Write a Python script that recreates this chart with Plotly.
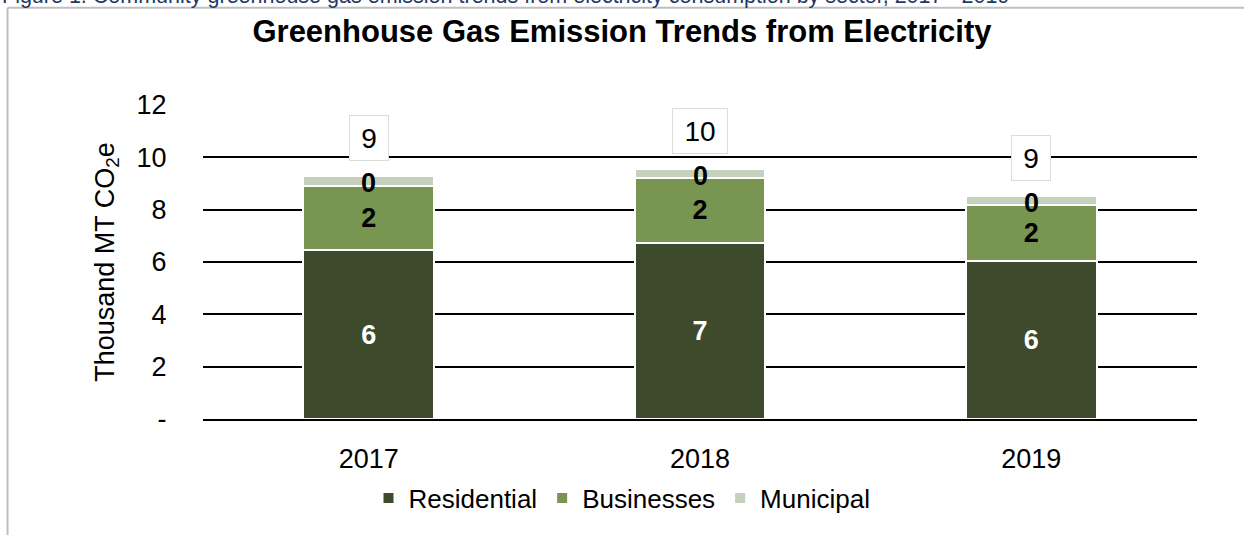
import plotly.graph_objects as go

years = ["2017", "2018", "2019"]
residential = [6.44, 6.74, 6.03]
businesses = [2.45, 2.46, 2.14]
municipal = [0.38, 0.34, 0.35]
series_names = ["Residential", "Businesses", "Municipal"]
series_colors = ["#3d4b2c", "#789552", "#c5d1bd"]
y_tickvals = [0, 2, 4, 6, 8, 10, 12]
y_ticktext = ["-", "2", "4", "6", "8", "10", "12"]

FONT = "Liberation Sans, Arial, sans-serif"

fig = go.Figure()
series = [residential, businesses, municipal]
label_colors = ["white", "black", "black"]
for name, vals, col, lc in zip(series_names, series, series_colors, label_colors):
    fig.add_trace(go.Bar(
        x=years, y=vals, name=name,
        marker=dict(color=col, line=dict(color="white", width=2)),
        text=[f"{v:.0f}" for v in vals] if name != "Municipal" else None,
        textposition="inside" if name != "Municipal" else "none",
        insidetextanchor="middle",
        textfont=dict(family=FONT, size=27, color=lc, weight="bold"),
    ))

# municipal labels (segment too thin for inside text); x given as category index
for i, (r, b, m) in enumerate(zip(residential, businesses, municipal)):
    fig.add_annotation(x=i, y=r + b + m / 2, xref="x", yref="y",
                       text=f"<b>{m:.0f}</b>", showarrow=False, yshift=-2,
                       font=dict(family=FONT, size=27, color="black"))

totals = [r + b + m for r, b, m in zip(residential, businesses, municipal)]
for i, t in enumerate(totals):
    txt = f"{t:.0f}"
    fig.add_annotation(
        x=i, y=t, xref="x", yref="y", text=txt, showarrow=False,
        yanchor="bottom", yshift=15,
        bgcolor="white", bordercolor="#dcdcdc", borderwidth=1,
        width=36 if len(txt) == 1 else 52, height=42,
        font=dict(family=FONT, size=28, color="black"),
    )

# caption (partially cut at top) and chart border
fig.add_annotation(
    xref="paper", yref="paper", x=-203 / 994, y=(418.7 - 10) / 314, xanchor="left", yanchor="bottom",
    text="Figure 1. Community greenhouse gas emission trends from electricity consumption by sector, 2017 - 2019",
    showarrow=False, font=dict(family=FONT, size=21.5, color="#1f3864"),
)
fig.add_shape(type="line", xref="paper", yref="paper",
              x0=(7.5 - 203) / 994, x1=(1250 - 203) / 994,
              y0=(418.7 - 7.5) / 314, y1=(418.7 - 7.5) / 314,
              line=dict(color="#bfbfbf", width=2), layer="above")
fig.add_shape(type="line", xref="paper", yref="paper",
              x0=(7.5 - 203) / 994, x1=(7.5 - 203) / 994,
              y0=(418.7 - 7.5) / 314, y1=(418.7 - 540) / 314,
              line=dict(color="#bfbfbf", width=2), layer="above")

fig.update_layout(
    width=1244, height=535,
    margin=dict(l=203, r=47, t=105, b=116, autoexpand=False),
    barmode="stack", bargap=0.605,
    paper_bgcolor="white", plot_bgcolor="white",
    font=dict(family=FONT, color="black"),
    title=dict(text="<b>Greenhouse Gas Emission Trends from Electricity</b>",
               x=0.5, xanchor="center", y=1 - 31 / 535, yanchor="middle",
               font=dict(family=FONT, size=31, color="black")),
    legend=dict(orientation="h", xref="container", x=0.5, xanchor="center",
                yref="container", y=1 - 498 / 535, yanchor="middle",
                font=dict(family=FONT, size=26, color="black"),
                traceorder="normal"),
)
fig.update_yaxes(range=[0, 12], autorange=False, tickvals=y_tickvals, ticktext=y_ticktext,
                 showgrid=True, gridcolor="black", gridwidth=2, zeroline=False,
                 ticks="outside", ticklen=30, tickcolor="rgba(0,0,0,0)",
                 tickfont=dict(family=FONT, size=27, color="black"),
                 title=dict(text="Thousand MT CO<sub>2</sub>e",
                            font=dict(family=FONT, size=27, color="black"),
                            standoff=14))
fig.update_xaxes(type="category", range=[-0.5, 2.5], autorange=False,
                 categoryorder="array", categoryarray=years,
                 showline=True, linecolor="black", linewidth=2,
                 ticks="outside", ticklen=15, tickcolor="rgba(0,0,0,0)",
                 tickfont=dict(family=FONT, size=27, color="black"))

fig.write_html("out.html")
